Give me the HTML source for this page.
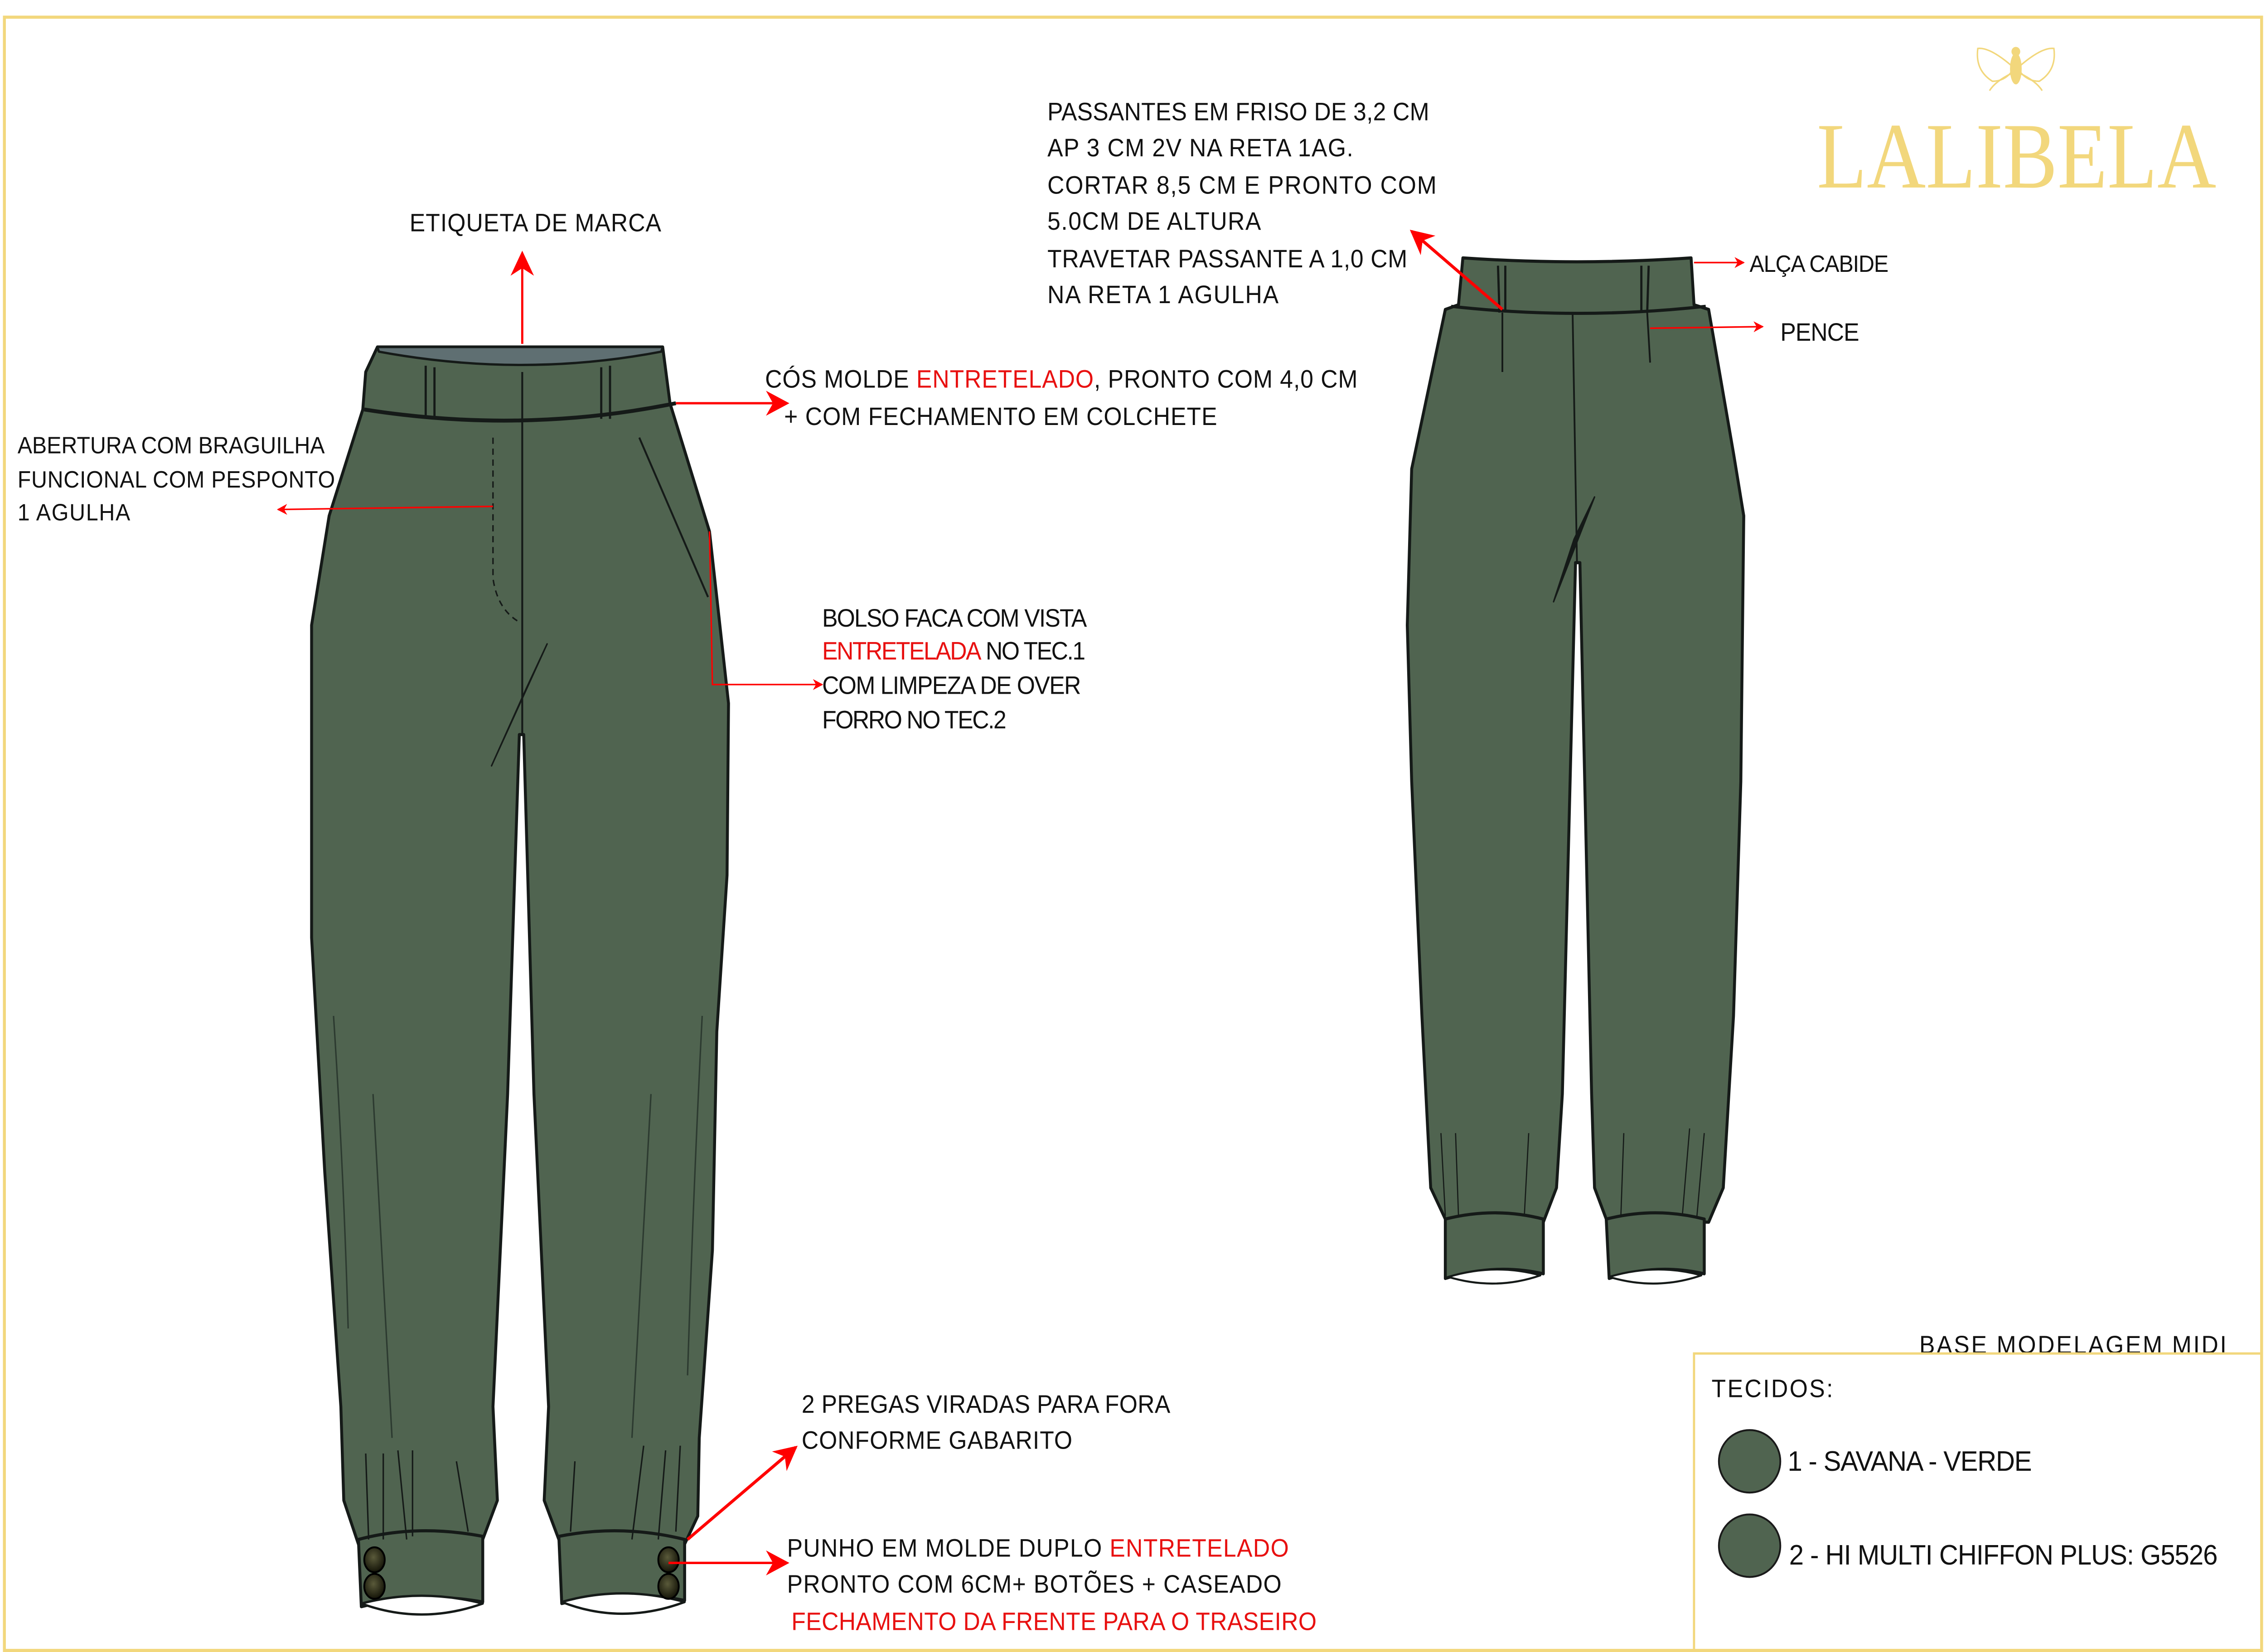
<!DOCTYPE html>
<html><head><meta charset="utf-8"><style>
html,body{margin:0;padding:0;background:#fff;width:100%;height:100%;overflow:hidden;}
svg{display:block;width:100vw;height:100vh;}
text{font-family:"Liberation Sans",sans-serif;fill:#111;}
.t{font-size:16px;}
.r{fill:#e81010;}
</style></head><body>
<svg viewBox="0 0 1549 1057" preserveAspectRatio="none" xmlns="http://www.w3.org/2000/svg">
<defs>
<marker id="a" viewBox="0 0 10 10" refX="9" refY="5" markerWidth="7" markerHeight="7" orient="auto" markerUnits="userSpaceOnUse"><path d="M0,0 L10,5 L0,10 L3,5 z" fill="#f00"/></marker>
<marker id="b" viewBox="0 0 10 10" refX="9" refY="5" markerWidth="16" markerHeight="16" orient="auto" markerUnits="userSpaceOnUse"><path d="M0,0 L10,5 L0,10 L3,5 z" fill="#f00"/></marker>
<radialGradient id="btn" cx="45%" cy="40%" r="60%"><stop offset="0" stop-color="#5a5a3a"/><stop offset="1" stop-color="#141408"/></radialGradient>
</defs>
<rect x="3" y="11" width="1543" height="1045" fill="none" stroke="#f2d77c" stroke-width="2"/>

<g stroke="#151a18" stroke-width="2" stroke-linejoin="round">
<path d="M258,222 L453,222 L458,258 L485,340 L498,450 L497,560 L490,660 L487,800 L478,920 L477,970 L468,988 L382,985 L372,960 L375,900 L365,700 L358,470 L355,470 L347,700 L337,900 L340,960 L330,985 L245,988 L235,960 L233,900 L222,750 L213,600 L213,400 L225,330 L248,262 L250,238 Z" fill="#506450"/>
<path d="M259,225 Q357,242 452,225 L453,222 L258,222 Z" fill="#5f6f72" stroke-width="1.5"/>
<path d="M249,262 Q357,278 462,258" fill="none" stroke-width="2.5"/>
<path d="M291,234 L291,268 M297,235 L297,268 M411,235 L411,268 M417,234 L417,268" fill="none" stroke-width="1.5"/>
<path d="M357,238 L357,276 L357,470" fill="none" stroke-width="1.3"/>
<path d="M337,280 L337,370 Q340,390 355,398" fill="none" stroke-width="1" stroke-dasharray="4,3"/>
<path d="M437,280 L484,382" fill="none" stroke-width="1.3"/>
<path d="M374,412 L336,490 L360,440 Z" fill="#151a18" stroke-width="1"/>
<path d="M245,985 Q285,975 330,983 L330,1025 Q288,1018 247,1028 Z" fill="#506450"/>
<path d="M247,1026 Q288,1040 330,1026 Q288,1016 247,1026 Z" fill="#fff" stroke-width="1.5"/>
<path d="M382,983 Q425,975 468,985 L468,1024 Q425,1016 384,1026 Z" fill="#506450"/>
<path d="M384,1025 Q425,1040 468,1025 Q425,1014 384,1025 Z" fill="#fff" stroke-width="1.5"/>
<path d="M250,930 L252,985 M262,930 L262,985 M272,928 L278,985 M282,928 L282,983 M312,935 L320,980 M393,935 L390,980 M440,925 L432,985 M455,928 L450,985 M465,925 L462,980" fill="none" stroke-width="1"/>
<path d="M228,650 Q235,750 238,850 M480,650 Q474,760 470,880 M255,700 Q262,820 268,920 M445,700 Q438,820 432,920" fill="none" stroke="#2c3a30" stroke-width="1"/>
</g>
<ellipse cx="256" cy="998" rx="7" ry="8" fill="url(#btn)" stroke="#000" stroke-width="1.2"/>
<ellipse cx="256" cy="1015" rx="7" ry="8" fill="url(#btn)" stroke="#000" stroke-width="1.2"/>
<ellipse cx="457" cy="998" rx="7" ry="8" fill="url(#btn)" stroke="#000" stroke-width="1.2"/>
<ellipse cx="457" cy="1015" rx="7" ry="8" fill="url(#btn)" stroke="#000" stroke-width="1.2"/>

<g stroke="#151a18" stroke-width="2" stroke-linejoin="round">
<path d="M1000,165 Q1078,170 1156,165 L1158,195 L1168,198 L1185,290 L1192,330 L1190,500 L1185,650 L1178,760 L1168,782 L1098,780 L1090,760 L1088,700 L1080,360 L1077,360 L1068,700 L1064,760 L1055,782 L988,780 L978,760 L972,650 L965,500 L962,400 L965,300 L988,198 L997,195 Z" fill="#506450"/>
<path d="M992,196 Q1078,205 1166,196" fill="none" stroke-width="2"/>
<path d="M1024,170 L1025,200 M1029,170 L1029,200 M1122,170 L1122,200 M1127,170 L1126,200" fill="none" stroke-width="1.5"/>
<path d="M1027,200 L1027,238 M1126,200 L1128,232 M1075,200 L1078,360" fill="none" stroke-width="1.2"/>
<path d="M1090,318 L1062,385 L1076,345 Z" fill="#151a18" stroke-width="1"/>
<path d="M988,780 Q1022,772 1055,780 L1055,815 Q1022,808 988,818 Z" fill="#506450"/>
<path d="M990,817 Q1022,826 1053,816 Q1022,808 990,817 Z" fill="#fff" stroke-width="1.3"/>
<path d="M1098,780 Q1132,772 1165,780 L1165,815 Q1132,808 1100,818 Z" fill="#506450"/>
<path d="M1100,817 Q1132,826 1163,816 Q1132,808 1100,817 Z" fill="#fff" stroke-width="1.3"/>
<path d="M985,725 L988,778 M995,725 L997,778 M1045,725 L1042,778 M1110,725 L1108,778 M1155,722 L1150,778 M1165,725 L1160,778" fill="none" stroke-width="0.8"/>
</g>

<g stroke="#f00" fill="none">
<line x1="357" y1="220" x2="357" y2="162" stroke-width="1.5" marker-end="url(#b)"/>
<line x1="462" y1="258" x2="538" y2="258" stroke-width="1.5" marker-end="url(#b)"/>
<line x1="337" y1="324" x2="190" y2="326" stroke-width="1" marker-end="url(#a)"/>
<polyline points="485,340 487,438 562,438" stroke-width="1" marker-end="url(#a)"/>
<line x1="1027" y1="198" x2="965" y2="148" stroke-width="2" marker-end="url(#b)"/>
<line x1="1158" y1="168" x2="1192" y2="168" stroke-width="1" marker-end="url(#a)"/>
<line x1="1128" y1="210" x2="1205" y2="209" stroke-width="1" marker-end="url(#a)"/>
<line x1="470" y1="985" x2="544" y2="926" stroke-width="2" marker-end="url(#b)"/>
<line x1="457" y1="1000" x2="538" y2="1000" stroke-width="1.5" marker-end="url(#b)"/>
</g>

<text class="t" x="280" y="148" textLength="172">ETIQUETA DE MARCA</text>
<text class="t" x="523" y="248" textLength="405">CÓS MOLDE <tspan class="r">ENTRETELADO</tspan>, PRONTO COM 4,0 CM</text>
<text class="t" x="536" y="272" textLength="296">+ COM FECHAMENTO EM COLCHETE</text>
<text class="t" style="font-size:15px" x="12" y="290" textLength="210">ABERTURA COM BRAGUILHA</text>
<text class="t" style="font-size:15px" x="12" y="312" textLength="217">FUNCIONAL COM  PESPONTO</text>
<text class="t" style="font-size:15px" x="12" y="333" textLength="77">1 AGULHA</text>
<text class="t" x="562" y="401" textLength="181">BOLSO FACA COM VISTA</text>
<text class="t" x="562" y="422" textLength="180"><tspan class="r">ENTRETELADA</tspan> NO TEC.1</text>
<text class="t" x="562" y="444" textLength="177">COM LIMPEZA DE OVER</text>
<text class="t" x="562" y="466" textLength="126">FORRO NO TEC.2</text>
<text class="t" x="716" y="77" textLength="261">PASSANTES EM FRISO DE 3,2 CM</text>
<text class="t" x="716" y="100" textLength="209">AP 3 CM 2V NA RETA 1AG.</text>
<text class="t" x="716" y="124" textLength="266">CORTAR 8,5 CM  E  PRONTO COM</text>
<text class="t" x="716" y="147" textLength="146">5.0CM DE ALTURA</text>
<text class="t" x="716" y="171" textLength="246">TRAVETAR PASSANTE A 1,0 CM</text>
<text class="t" x="716" y="194" textLength="158">NA RETA 1 AGULHA</text>
<text class="t" style="font-size:15px" x="1196" y="174" textLength="95">ALÇA CABIDE</text>
<text class="t" x="1217" y="218" textLength="54">PENCE</text>
<text class="t" x="548" y="904" textLength="252">2 PREGAS VIRADAS PARA FORA</text>
<text class="t" x="548" y="927" textLength="185">CONFORME GABARITO</text>
<text class="t" x="538" y="996" textLength="343">PUNHO EM MOLDE DUPLO <tspan class="r">ENTRETELADO</tspan></text>
<text class="t" x="538" y="1019" textLength="338">PRONTO COM 6CM+ BOTÕES + CASEADO</text>
<text class="t r" x="541" y="1043" textLength="359">FECHAMENTO DA FRENTE PARA O TRASEIRO</text>
<text class="t" x="1312" y="866" textLength="210">BASE MODELAGEM MIDI</text>

<path d="M1158,1056 L1158,866 L1546,866" fill="none" stroke="#f2d77c" stroke-width="1.5"/>
<text class="t" x="1170" y="894" textLength="83">TECIDOS:</text>
<ellipse cx="1196" cy="935" rx="21" ry="20" fill="#506450" stroke="#1a1a1a" stroke-width="1.2"/>
<ellipse cx="1196" cy="989" rx="21" ry="20" fill="#506450" stroke="#1a1a1a" stroke-width="1.2"/>
<text class="t" style="font-size:18px" x="1222" y="941" textLength="167">1 - SAVANA - VERDE</text>
<text class="t" style="font-size:18px" x="1223" y="1001" textLength="293">2 - HI MULTI CHIFFON PLUS: G5526</text>

<g fill="#f2d77c" stroke="#f2d77c">
<ellipse cx="1378" cy="44" rx="4" ry="10" stroke="none"/>
<ellipse cx="1378" cy="33" rx="3" ry="3" stroke="none"/>
<path d="M1375,42 Q1360,30 1352,31 Q1350,45 1362,52 Q1370,52 1375,46 M1381,42 Q1396,30 1404,31 Q1406,45 1394,52 Q1386,52 1381,46" fill="none" stroke-width="1"/>
<path d="M1375,47 Q1364,52 1360,58 M1381,47 Q1392,52 1396,58" fill="none" stroke-width="1"/>
</g>
<text x="1242" y="120" textLength="273" lengthAdjust="spacingAndGlyphs" style="font-family:'Liberation Serif',serif;font-size:60px;fill:#f2d77c">LALIBELA</text>
</svg>
</body></html>
